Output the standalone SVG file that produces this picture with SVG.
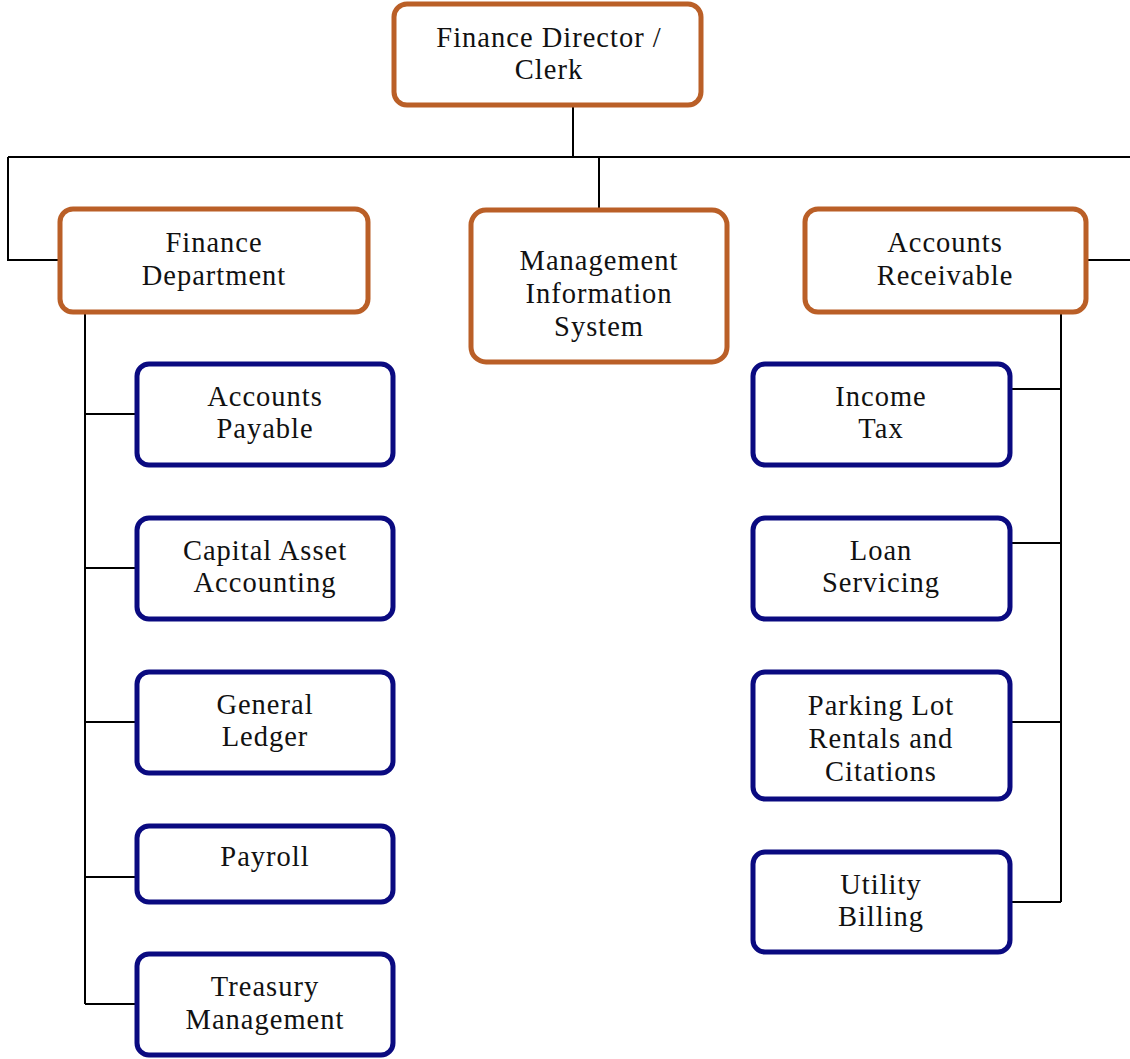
<svg xmlns="http://www.w3.org/2000/svg" width="1130" height="1059" viewBox="0 0 1130 1059">
<style>
.o{fill:#fff;stroke:#BA5F27;stroke-width:5}
.b{fill:#fff;stroke:#0A0A80;stroke-width:5}
.t{font-family:"Liberation Serif","Times New Roman",serif;font-size:28.5px;letter-spacing:1px;fill:#111;text-anchor:middle}
.c{fill:none;stroke:#000;stroke-width:2}
</style>
<rect width="1130" height="1059" fill="#fff"/>
<g id="connectors">
<path class="c" d="M573 106V157M8 157H1130M599 157V210M8 157V260H60M85 313V1004M85 414H136M85 568H136M85 722H136M85 877H136M85 1004H136M1087 260H1130M1061 313V902M1011 389H1061M1011 543H1061M1011 722H1061M1011 902H1061"/>
</g>
<g id="n-director"><rect class="o" x="394" y="4" width="307" height="101" rx="13"/><text class="t" x="549" y="47">Finance Director /</text><text class="t" x="549" y="79">Clerk</text></g>
<g id="n-findept"><rect class="o" x="60" y="209" width="308" height="103" rx="13"/><text class="t" x="214" y="252">Finance</text><text class="t" x="214" y="285">Department</text></g>
<g id="n-mis"><rect class="o" x="471" y="210" width="256" height="152" rx="15"/><text class="t" x="599" y="270">Management</text><text class="t" x="599" y="303">Information</text><text class="t" x="599" y="336">System</text></g>
<g id="n-ar"><rect class="o" x="805" y="209" width="281" height="103" rx="13"/><text class="t" x="945" y="252">Accounts</text><text class="t" x="945" y="285">Receivable</text></g>
<g id="n-ap"><rect class="b" x="137" y="364" width="256" height="101" rx="12"/><text class="t" x="265" y="406">Accounts</text><text class="t" x="265" y="438">Payable</text></g>
<g id="n-capital"><rect class="b" x="137" y="518" width="256" height="101" rx="12"/><text class="t" x="265" y="560">Capital Asset</text><text class="t" x="265" y="592">Accounting</text></g>
<g id="n-gl"><rect class="b" x="137" y="672" width="256" height="101" rx="12"/><text class="t" x="265" y="714">General</text><text class="t" x="265" y="746">Ledger</text></g>
<g id="n-payroll"><rect class="b" x="137" y="826" width="256" height="76" rx="12"/><text class="t" x="265" y="866">Payroll</text></g>
<g id="n-treasury"><rect class="b" x="137" y="954" width="256" height="101" rx="12"/><text class="t" x="265" y="996">Treasury</text><text class="t" x="265" y="1029">Management</text></g>
<g id="n-income"><rect class="b" x="753" y="364" width="257" height="101" rx="12"/><text class="t" x="881" y="406">Income</text><text class="t" x="881" y="438">Tax</text></g>
<g id="n-loan"><rect class="b" x="753" y="518" width="257" height="101" rx="12"/><text class="t" x="881" y="560">Loan</text><text class="t" x="881" y="592">Servicing</text></g>
<g id="n-parking"><rect class="b" x="753" y="672" width="257" height="127" rx="12"/><text class="t" x="881" y="715">Parking Lot</text><text class="t" x="881" y="748">Rentals and</text><text class="t" x="881" y="781">Citations</text></g>
<g id="n-utility"><rect class="b" x="753" y="852" width="257" height="100" rx="12"/><text class="t" x="881" y="894">Utility</text><text class="t" x="881" y="926">Billing</text></g>
</svg>
